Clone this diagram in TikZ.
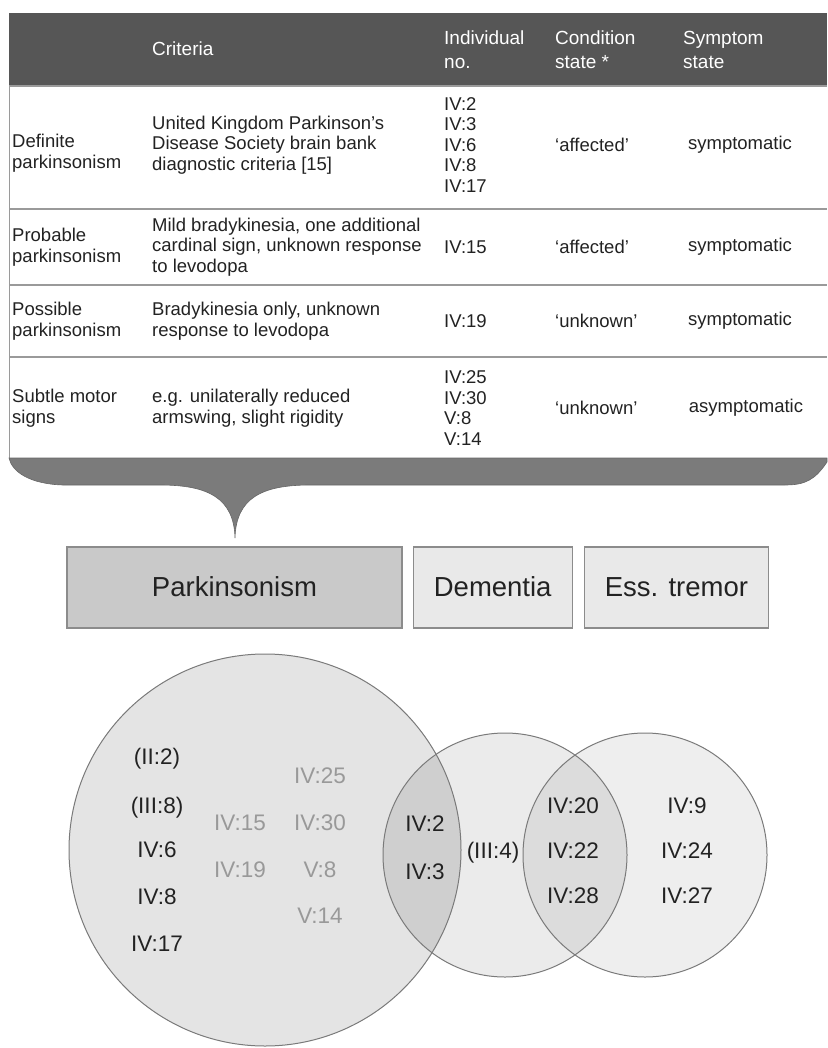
\documentclass[tikz,border=0pt]{standalone}
\usepackage{fontspec}
\setmainfont{Liberation Sans}
\usetikzlibrary{positioning}

\definecolor{headgray}{HTML}{565656}
\definecolor{bracegray}{HTML}{7B7B7B}
\definecolor{rulegray}{HTML}{9A9A9A}
\definecolor{boxline}{HTML}{8C8C8C}
\definecolor{parkfill}{HTML}{C9C9C9}
\definecolor{otherfill}{HTML}{E9E9E9}
\definecolor{vennline}{HTML}{7A7A7A}
\definecolor{bigfill}{HTML}{E4E4E4}
\definecolor{midfill}{HTML}{EBEBEB}
\definecolor{rightfill}{HTML}{EEEEEE}
\definecolor{lensone}{HTML}{CFCFCF}
\definecolor{lenstwo}{HTML}{DCDCDC}
\definecolor{inktext}{HTML}{222222}

\begin{document}
\begin{tikzpicture}[x=1pt,y=-1pt,
    cell/.style={anchor=west,align=left,inner sep=0pt,text=inktext,
      font=\fontsize{18.5}{20.5}\selectfont},
    headcell/.style={cell,text=white,font=\fontsize{19}{24}\selectfont},
    symcell/.style={cell,anchor=center},
    rowrule/.style={draw=rulegray,line width=1.4pt},
    catbox/.style={draw=boxline,line width=1.2pt,minimum height=81pt,
      inner sep=0pt,text=inktext,text height=21pt,text depth=4pt,
      font=\fontsize{27.5}{30}\selectfont},
    venn/.style={inner sep=0pt,text=inktext,text height=16.5pt,text depth=4.5pt,
      font=\fontsize{22.5}{26}\selectfont},
    faint/.style={venn,text=black!40}]
\useasboundingbox (0,0) rectangle (827,1048);

% table
\fill[headgray] (9,13) rectangle (827,86);
\draw[rulegray,line width=1pt] (9,86) -- (9,458);
\draw[rowrule] (9,86) -- (827,86);
\draw[rowrule] (9,209) -- (827,209);
\draw[rowrule] (9,285) -- (827,285);
\draw[rowrule] (9,357) -- (827,357);

\node[headcell] (hcrit) at (152,49) {Criteria};
\node[headcell] (hind) at (444,50) {Individual\\no.};
\node[headcell] (hcond) at (555,50) {Condition\\state *};
\node[headcell] (hsym) at (683,50) {Symptom\\state};

\node[cell] (defname) at (12,153) {Definite\\parkinsonism};
\node[cell] (defcrit) at (152,145) {United Kingdom Parkinson's\\Disease Society brain bank\\diagnostic criteria [15]};
\node[cell] (defind) at (444,145) {IV:2\\IV:3\\IV:6\\IV:8\\IV:17};
\node[cell] (defcond) at (555,145) {`affected'};
\node[symcell] (defsym) at (740,145) {symptomatic};

\node[cell] (probname) at (12,247) {Probable\\parkinsonism};
\node[cell] (probcrit) at (152,247) {Mild bradykinesia, one additional\\cardinal sign, unknown response\\to levodopa};
\node[cell] (probind) at (444,247) {IV:15};
\node[cell] (probcond) at (555,247) {`affected'};
\node[symcell] (probsym) at (740,247) {symptomatic};

\node[cell] (possname) at (12,321) {Possible\\parkinsonism};
\node[cell] (posscrit) at (152,321) {Bradykinesia only, unknown\\response to levodopa};
\node[cell] (possind) at (444,321) {IV:19};
\node[cell] (posscond) at (555,321) {`unknown'};
\node[symcell] (posssym) at (740,321) {symptomatic};

\node[cell] (subname) at (12,408) {Subtle motor\\signs};
\node[cell] (subcrit) at (152,408) {e.g. unilaterally reduced\\armswing, slight rigidity};
\node[cell] (subind) at (444,408) {IV:25\\IV:30\\V:8\\V:14};
\node[cell] (subcond) at (555,408) {`unknown'};
\node[symcell] (subsym) at (746,408) {asymptomatic};

% brace under the table
\fill[bracegray,draw=black!60,line width=0.6pt] (9,458) -- (827,458) -- (827,462)
  .. controls (815,480) and (805,485) .. (785,485) -- (310,485)
  .. controls (262,485) and (236,498) .. (235,538)
  .. controls (234,498) and (208,485) .. (160,485) -- (63,485)
  .. controls (30,484) and (12,472) .. (9,458) -- cycle;

% category boxes
\node[catbox,fill=parkfill,minimum width=335pt] (parkbox) at (234.5,587.5) {Parkinsonism};
\node[catbox,fill=otherfill,minimum width=159pt,right=10pt of parkbox] (dembox) {Dementia};
\node[catbox,fill=otherfill,minimum width=184pt,right=11pt of dembox] (essbox) {Ess. tremor};

% venn
\fill[bigfill] (265,850) circle (196pt);
\fill[midfill] (505,855) circle (122pt);
\fill[rightfill] (645,855) circle (122pt);
\begin{scope}
  \clip (265,850) circle (196pt);
  \fill[lensone] (505,855) circle (122pt);
\end{scope}
\begin{scope}
  \clip (505,855) circle (122pt);
  \fill[lenstwo] (645,855) circle (122pt);
\end{scope}
\draw[vennline,line width=1pt] (265,850) circle (196pt);
\draw[vennline,line width=1pt] (505,855) circle (122pt);
\draw[vennline,line width=1pt] (645,855) circle (122pt);

\node[venn] (ii2) at (157,758) {(II:2)};
\node[venn] (iii8) at (157,807) {(III:8)};
\node[venn] (iv6) at (157,851) {IV:6};
\node[venn] (iv8) at (157,898) {IV:8};
\node[venn] (iv17) at (157,945) {IV:17};
\node[faint] (iv15) at (240,824) {IV:15};
\node[faint] (iv19) at (240,871) {IV:19};
\node[faint] (iv25) at (320,777) {IV:25};
\node[faint] (iv30) at (320,824) {IV:30};
\node[faint] (v8) at (320,871) {V:8};
\node[faint] (v14) at (320,917) {V:14};

\node[venn] (iv2) at (425,825) {IV:2};
\node[venn] (iv3) at (425,873) {IV:3};
\node[venn] (iii4) at (493,852) {(III:4)};
\node[venn] (iv20) at (573,807) {IV:20};
\node[venn] (iv22) at (573,852) {IV:22};
\node[venn] (iv28) at (573,897) {IV:28};
\node[venn] (iv9) at (687,807) {IV:9};
\node[venn] (iv24) at (687,852) {IV:24};
\node[venn] (iv27) at (687,897) {IV:27};
\end{tikzpicture}
\end{document}
